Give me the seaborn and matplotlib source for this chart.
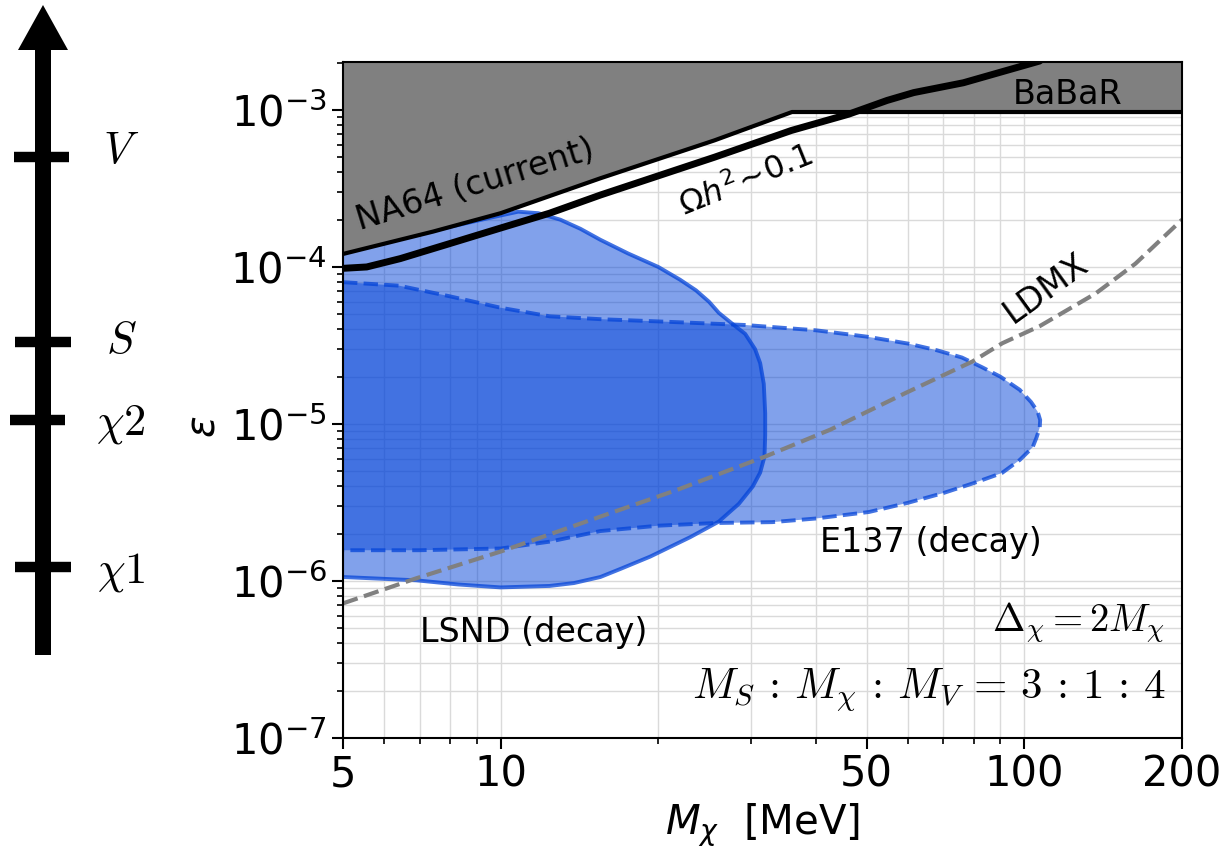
import numpy as np
import pandas as pd
import matplotlib
matplotlib.use("Agg")
import matplotlib.pyplot as plt
import matplotlib.ticker as mticker
import seaborn as sns

# ---- data (x: M_chi [MeV], y: epsilon) ----
na64_x = [5, 7.43, 10, 15.5, 25.6, 36]
na64_y = [1.21e-4, 1.68e-4, 2.2e-4, 3.67e-4, 6.4e-4, 9.7e-4]
babar_x = [36, 200]
babar_y = [9.7e-4, 9.7e-4]

relic_x = [5, 5.55, 6.43, 8, 10, 12.4, 15.5, 25.6, 35.9, 46.2, 54.7, 61.5, 76.5, 107]
relic_y = [0.98e-4, 1.0e-4, 1.13e-4, 1.41e-4, 1.77e-4, 2.2e-4, 2.87e-4, 5.0e-4,
           7.4e-4, 9.4e-4, 1.15e-3, 1.29e-3, 1.49e-3, 2.05e-3]

ldmx_x = [5, 6.9, 10, 15.5, 21.7, 32, 42.6, 59.2, 79.6, 90.8, 107, 137, 163, 200]
ldmx_y = [0.72e-6, 1.04e-6, 1.54e-6, 2.57e-6, 3.8e-6, 6.2e-6, 9.2e-6, 1.57e-5,
          2.5e-5, 3.27e-5, 4.2e-5, 6.8e-5, 1.05e-4, 2.0e-4]

e137_x = [5, 6.4, 8, 10, 12.4, 15.5, 20, 29.3, 40, 50, 60, 68, 76, 83, 90, 98, 103,
          106, 107.2, 107, 105.5, 103.7, 98, 90.6, 80, 70.2, 60, 50.5, 40, 33,
          25.7, 20, 15.5, 12.4, 10, 7, 5]
e137_y = [8.0e-5, 7.6e-5, 6.5e-5, 5.5e-5, 4.85e-5, 4.65e-5, 4.5e-5, 4.27e-5,
          3.95e-5, 3.6e-5, 3.25e-5, 2.95e-5, 2.65e-5, 2.3e-5, 2.0e-5, 1.65e-5,
          1.38e-5, 1.2e-5, 1.06e-5, 9.5e-6, 8.2e-6, 7.1e-6, 5.9e-6, 4.87e-6,
          4.2e-6, 3.64e-6, 3.15e-6, 2.75e-6, 2.5e-6, 2.37e-6, 2.34e-6, 2.25e-6,
          2.08e-6, 1.78e-6, 1.61e-6, 1.57e-6, 1.57e-6]

lsnd_x = [5, 6.5, 8, 9.5, 10.8, 11.8, 13, 14.2, 15.5, 17.5, 20, 22, 23.6, 25,
          26.1, 27.8, 29.3, 30.6, 31.3, 31.8, 32.0, 32.0, 31.9, 31.3, 30.3, 28.5,
          26.1, 23, 19.3, 17, 15.5, 13.8, 12.4, 10, 8.3, 6.9, 5]
lsnd_y = [1.3e-4, 1.55e-4, 1.8e-4, 2.05e-4, 2.25e-4, 2.2e-4, 2.0e-4, 1.75e-4,
          1.49e-4, 1.22e-4, 1.0e-4, 8.3e-5, 7.1e-5, 6.0e-5, 5.1e-5, 4.3e-5,
          3.75e-5, 3.0e-5, 2.44e-5, 1.8e-5, 1.17e-5, 8.5e-6, 6.2e-6, 4.9e-6,
          4.0e-6, 3.1e-6, 2.39e-6, 1.9e-6, 1.43e-6, 1.2e-6, 1.06e-6, 0.97e-6,
          0.93e-6, 0.91e-6, 0.95e-6, 1.01e-6, 1.06e-6]

xticks = [5, 10, 50, 100, 200]
xtick_labels = ["5", "10", "50", "100", "200"]

# schematic mass spectrum on the left (height in pixels of the panel)
level_names = [r"$V$", r"$S$", r"$\chi2$", r"$\chi1$"]
level_pos = [157, 342, 420, 567]
level_lo = [14, 15, 10, 15]
level_hi = [69, 71, 65, 71]
label_pos = [150, 340, 424, 572]

BLUE = "#0444D8"
GRID = "#dadada"

sns.set_style("ticks")
plt.rcParams["font.family"] = ["DejaVu Sans"]
plt.rcParams["text.color"] = "black"
plt.rcParams["axes.labelcolor"] = "black"
plt.rcParams["xtick.color"] = "black"
plt.rcParams["ytick.color"] = "black"

fig = plt.figure(figsize=(12.22, 8.56), dpi=100)
ax = fig.add_axes([343 / 1222, 1 - 738 / 856, 839 / 1222, 676 / 856])
ax.set_xscale("log")
ax.set_yscale("log")
ax.set_xlim(5, 200)
ax.set_ylim(1e-7, 2.02e-3)

# regions
ax.fill(lsnd_x, lsnd_y, color=BLUE, alpha=0.5, lw=0, zorder=2)
ax.fill(e137_x, e137_y, color=BLUE, alpha=0.5, lw=0, zorder=2)
sns.lineplot(x=lsnd_x, y=lsnd_y, ax=ax, sort=False, estimator=None,
             color=BLUE, alpha=0.75, lw=2.8, zorder=3)
sns.lineplot(x=e137_x, y=e137_y, ax=ax, sort=False, estimator=None,
             color=BLUE, alpha=0.75, lw=2.8, ls="--", zorder=3)

sns.lineplot(x=ldmx_x, y=ldmx_y, ax=ax, sort=False, estimator=None,
             color="gray", lw=3, ls="--", zorder=3)

bound_x = na64_x + babar_x[1:]
bound_y = na64_y + babar_y[1:]
ax.fill_between(bound_x, bound_y, 1, color="#808080", lw=0, zorder=4)
sns.lineplot(x=bound_x, y=bound_y, ax=ax, sort=False, estimator=None,
             color="black", lw=3, zorder=5)
sns.lineplot(x=relic_x, y=relic_y, ax=ax, sort=False, estimator=None,
             color="black", lw=5, zorder=6)

# axes styling
ax.set_xticks(xticks)
ax.set_xticklabels(xtick_labels)
ax.xaxis.set_minor_locator(mticker.LogLocator(base=10, subs=np.arange(2, 10)))
ax.xaxis.set_minor_formatter(mticker.NullFormatter())
ax.yaxis.set_major_locator(mticker.LogLocator(base=10, numticks=10))
ax.yaxis.set_minor_locator(mticker.LogLocator(base=10, subs=np.arange(2, 10), numticks=20))
ax.yaxis.set_minor_formatter(mticker.NullFormatter())
ax.tick_params(which="major", labelsize=30, length=8, width=1.5, direction="out")
ax.tick_params(which="minor", length=4.5, width=1.2, direction="out")
ax.grid(True, which="both", color=GRID, lw=1)
ax.set_axisbelow(True)
for s in ax.spines.values():
    s.set_linewidth(1.5)
    s.set_color("black")
    s.set_zorder(8)

ax.set_xlabel(r"$M_\chi$  [MeV]", fontsize=29, labelpad=4)
ax.set_ylabel(r"$\epsilon$", fontsize=29)
ax.yaxis.set_label_coords(-0.143, 0.46)

# labels
ax.text(8.95, 3.33e-4, "NA64 (current)", fontsize=24, rotation=17,
        ha="center", va="center", zorder=7)
ax.text(121, 1.25e-3, "BaBaR", fontsize=24, ha="center", va="center", zorder=7)
ax.text(29.4, 3.5e-4, r"$\Omega h^2\!\sim\!0.1$", fontsize=23, rotation=22,
        ha="center", va="center", zorder=7)
ax.text(110, 7.3e-5, "LDMX", fontsize=24, rotation=36,
        ha="center", va="center", zorder=7)
ax.text(66.3, 1.75e-6, "E137 (decay)", fontsize=24, ha="center", va="center", zorder=7)
ax.text(11.55, 4.73e-7, "LSND (decay)", fontsize=24, ha="center", va="center", zorder=7)
ax.text(0.98, 0.171, r"$\Delta_\chi = 2M_\chi$", transform=ax.transAxes,
        fontsize=28, ha="right", va="center", math_fontfamily="cm", zorder=7)
ax.text(0.98, 0.071, r"$M_S\,:\,M_\chi\,:\,M_V\,=\,3\,:\,1\,:\,4$", transform=ax.transAxes,
        fontsize=31, ha="right", va="center", math_fontfamily="cm", zorder=7)

# left spectrum panel (coordinates in panel pixels)
axs = fig.add_axes([0, 0, 196 / 1222, 1])
axs.set_xlim(0, 196)
axs.set_ylim(856, 0)
axs.axis("off")
axs.arrow(43, 655, 0, -650, width=16, head_width=50, head_length=45,
          length_includes_head=True, color="black", lw=0)
axs.hlines(level_pos, level_lo, level_hi, colors="black", lw=7.5)
for name, yy in zip(level_names, label_pos):
    axs.text(121, yy, name, fontsize=32, ha="center", va="center", math_fontfamily="cm")

fig.savefig("out.png", dpi=100)
